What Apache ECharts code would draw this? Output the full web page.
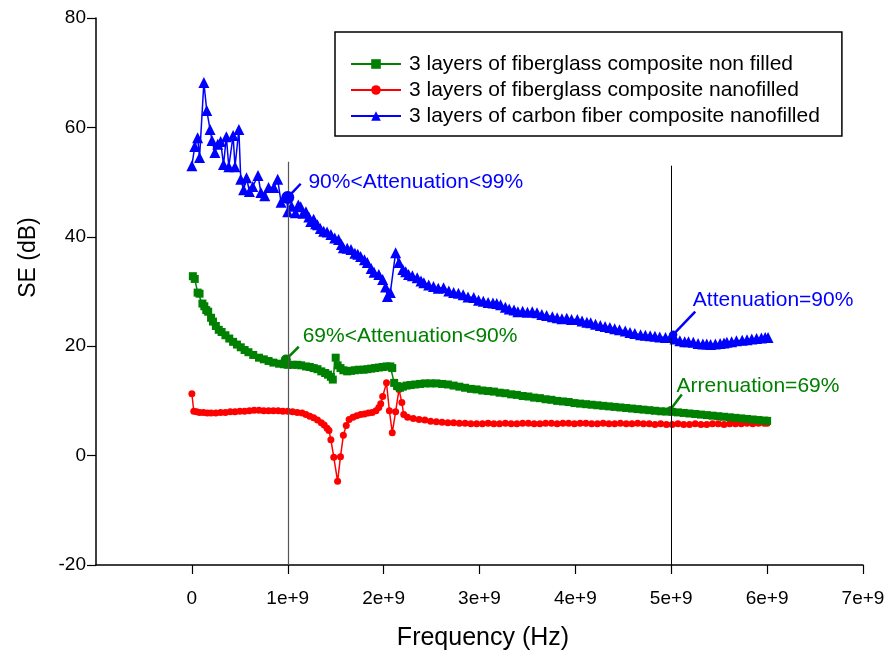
<!DOCTYPE html>
<html>
<head>
<meta charset="utf-8">
<script src="https://cdn.jsdelivr.net/npm/echarts@6/dist/echarts.min.js"></script>
<style>
  html, body { margin: 0; padding: 0; background: #fff; }
  #chart { width: 889px; height: 657px; }
</style>
</head>
<body>
<div id="chart"></div>
<script>
// frequencies in GHz (multiplied to Hz when building the series), SE in dB
var greenFreq = [0.01,0.03,0.06,0.08,0.11,0.13,0.15,0.17,0.20,0.22,0.25,0.28,0.31,0.35,0.39,0.43,0.47,0.51,0.55,0.59,
  0.64,0.70,0.75,0.80,0.85,0.91,0.96,1.00,1.05,1.10,1.14,1.19,1.23,1.27,1.31,1.35,1.39,1.42,1.45,1.47,
  1.50,1.52,1.55,1.58,1.62,1.66,1.70,1.74,1.79,1.83,1.87,1.91,1.95,1.99,2.03,2.07,2.09,2.11,2.14,2.17,
  2.20,2.24,2.28,2.33,2.38,2.43,2.49,2.55,2.61,2.67,2.73,2.79,2.85,2.91,2.97,3.03,3.09,3.15,3.21,3.27,
  3.33,3.39,3.45,3.51,3.57,3.63,3.69,3.75,3.81,3.87,3.93,3.99,4.05,4.11,4.17,4.23,4.29,4.35,4.41,4.47,
  4.53,4.59,4.65,4.71,4.77,4.83,4.89,4.95,5.01,5.07,5.13,5.19,5.25,5.31,5.37,5.43,5.49,5.55,5.61,5.67,
  5.73,5.79,5.85,5.91,5.97,6.00];
var greenSE = [32.8,32.3,29.8,29.6,27.8,27.3,26.6,26.3,25.2,24.5,23.7,23.0,22.6,22.0,21.4,20.8,20.3,19.8,19.3,18.9,
  18.4,17.9,17.6,17.3,17.0,16.8,16.7,16.6,16.6,16.6,16.5,16.3,16.2,16.0,15.8,15.4,15.1,14.8,14.4,13.9,
  17.9,16.5,16.0,15.6,15.4,15.5,15.6,15.7,15.7,15.8,15.9,16.0,16.1,16.2,16.3,16.3,16.0,13.3,12.7,12.4,
  12.6,12.8,12.9,13.0,13.1,13.2,13.2,13.2,13.1,13.0,12.8,12.6,12.4,12.2,12.1,11.9,11.8,11.7,11.5,11.4,
  11.2,11.1,10.9,10.8,10.6,10.5,10.3,10.2,10.0,9.9,9.8,9.6,9.5,9.4,9.3,9.2,9.1,9.0,8.9,8.8,
  8.7,8.6,8.5,8.4,8.3,8.2,8.1,8.05,8.0,7.9,7.8,7.7,7.6,7.5,7.4,7.3,7.2,7.1,7.0,6.9,
  6.8,6.7,6.6,6.5,6.4,6.35];

var redFreq = [0.00,0.02,0.05,0.08,0.12,0.16,0.20,0.25,0.30,0.35,0.40,0.45,0.50,0.55,0.60,0.65,0.70,0.75,0.80,0.85,
  0.90,0.95,1.00,1.05,1.10,1.15,1.19,1.23,1.27,1.31,1.35,1.38,1.41,1.43,1.45,1.48,1.52,1.55,1.58,1.61,
  1.64,1.68,1.72,1.76,1.80,1.84,1.88,1.92,1.95,1.97,1.99,2.03,2.06,2.09,2.125,2.16,2.19,2.21,2.25,2.31,
  2.37,2.43,2.49,2.55,2.61,2.67,2.73,2.79,2.85,2.91,2.97,3.03,3.09,3.15,3.21,3.27,3.33,3.39,3.45,3.51,
  3.57,3.63,3.69,3.75,3.81,3.87,3.93,3.99,4.05,4.11,4.17,4.23,4.29,4.35,4.41,4.47,4.53,4.59,4.65,4.71,
  4.77,4.83,4.89,4.95,5.01,5.07,5.13,5.19,5.25,5.31,5.37,5.43,5.49,5.55,5.61,5.67,5.73,5.79,5.85,5.91,
  5.97,6.00];
var redSE = [11.3,8.1,8.0,7.9,7.9,7.8,7.8,7.8,7.9,7.9,8.0,8.0,8.1,8.1,8.2,8.3,8.3,8.2,8.2,8.2,
  8.2,8.1,8.1,8.0,7.9,7.8,7.5,7.2,6.9,6.5,6.0,5.6,5.0,4.6,2.9,-0.3,-4.7,-0.2,3.7,5.5,
  6.6,7.0,7.3,7.5,7.6,7.8,7.9,8.2,8.8,9.5,10.8,13.3,8.2,4.2,8.0,12.1,9.7,7.5,7.0,6.8,
  6.6,6.5,6.3,6.2,6.1,6.0,6.0,5.9,5.9,5.8,5.8,5.8,5.9,5.8,5.8,5.9,5.8,5.8,5.9,5.9,
  5.8,5.8,5.9,5.9,5.8,5.9,5.9,5.8,5.9,5.9,5.8,5.8,5.9,5.8,5.8,5.9,5.8,5.8,5.9,5.8,
  5.8,5.7,5.8,5.7,5.7,5.8,5.7,5.7,5.8,5.7,5.7,5.8,5.8,5.7,5.8,5.8,5.8,5.9,5.8,5.9,
  5.9,5.9];

var blueFreq = [0.00,0.03,0.06,0.08,0.125,0.155,0.19,0.21,0.24,0.27,0.30,0.33,0.36,0.385,0.43,0.45,0.49,0.51,0.54,0.57,
  0.60,0.635,0.69,0.72,0.76,0.80,0.855,0.895,0.93,0.99,1.00,1.04,1.08,1.11,1.135,1.16,1.19,1.22,1.24,1.27,
  1.29,1.31,1.34,1.375,1.41,1.45,1.49,1.53,1.56,1.58,1.62,1.66,1.70,1.73,1.76,1.80,1.83,1.87,1.90,1.95,
  1.99,2.02,2.04,2.07,2.125,2.16,2.20,2.23,2.26,2.30,2.35,2.39,2.42,2.47,2.52,2.57,2.625,2.68,2.73,2.78,
  2.83,2.88,2.94,2.99,3.04,3.09,3.14,3.18,3.22,3.27,3.31,3.36,3.40,3.45,3.50,3.55,3.60,3.65,3.70,3.76,
  3.81,3.86,3.91,3.96,4.02,4.07,4.12,4.16,4.21,4.26,4.31,4.36,4.41,4.46,4.52,4.57,4.62,4.68,4.73,4.78,
  4.83,4.88,4.94,4.99,5.04,5.09,5.14,5.18,5.23,5.28,5.33,5.37,5.41,5.46,5.51,5.55,5.58,5.63,5.68,5.74,
  5.79,5.84,5.89,5.94,5.98,6.01];
var blueSE = [53.0,56.5,58.1,54.5,68.2,63.1,59.6,57.6,55.4,56.9,57.4,53.2,58.3,52.8,58.5,52.8,59.6,50.5,48.6,50.8,
  48.3,49.2,51.2,48.1,47.5,49.0,49.0,50.5,46.3,47.2,44.6,45.6,44.4,45.8,45.5,44.3,44.6,43.6,42.8,43.2,
  42.4,42.2,41.5,41.0,40.9,40.4,39.8,39.5,38.6,38.0,37.9,37.7,37.0,36.8,36.4,35.8,35.3,34.2,33.5,33.1,
  32.2,30.8,29.1,29.8,37.1,35.3,34.0,33.6,33.1,32.9,32.5,31.9,31.6,31.2,30.9,30.6,30.7,30.1,29.8,29.7,
  29.4,29.0,28.9,28.4,28.2,28.0,27.9,27.8,27.6,27.1,26.8,26.6,26.3,26.4,26.2,26.3,26.1,25.8,25.6,25.4,
  25.2,25.0,25.1,24.9,24.9,24.6,24.4,24.3,24.0,23.8,23.6,23.4,23.2,23.0,22.8,22.5,22.3,22.1,22.0,21.9,
  21.8,21.7,21.6,21.6,21.3,21.0,20.8,20.8,20.7,20.5,20.4,20.4,20.3,20.4,20.5,20.6,20.7,20.8,21.0,21.1,
  21.2,21.3,21.4,21.5,21.6,21.6];

var seriesNames = ['3 layers of fiberglass composite non filled',
  '3 layers of fiberglass composite nanofilled',
  '3 layers of carbon fiber composite nanofilled'];
var xTicks = [0, 1e9, 2e9, 3e9, 4e9, 5e9, 6e9, 7e9];
var yTicks = [-20, 0, 20, 40, 60, 80];

var FONT = 'Liberation Sans, Arial, Helvetica, sans-serif';
var GREEN = '#008000', RED = '#ff0000', BLUE = '#0000ff';

// pair up frequency (GHz -> Hz) and SE
function toPoints(freq, se) {
  var pts = [];
  for (var i = 0; i < freq.length; i++) {
    pts.push([freq[i] * 1e9, se[i]]);
  }
  return pts;
}

// annotation: dot + short leader line + text, all in data coords
function note(text, color, dot, end, textAt, dotSize) {
  return {
    line: [{ coord: dot, symbol: 'circle', symbolSize: dotSize },
           { coord: end, symbol: 'none' }],
    point: { coord: textAt, value: text, label: { color: color } }
  };
}

var notesBlue = [
  note('90%<Attenuation<99%', BLUE, [1.0e9, 47.2], [1.135e9, 49.7], [1.21e9, 50.0], 13),
  note('Attenuation=90%', BLUE, [5.02e9, 22.1], [5.25e9, 26.3], [5.22e9, 28.5], 8)
];
var notesGreen = [
  note('69%<Attenuation<90%', GREEN, [0.98e9, 17.55], [1.115e9, 19.9], [1.15e9, 21.8], 10),
  note('Arrenuation=69%', GREEN, [4.99e9, 8.4], [5.11e9, 11.15], [5.05e9, 12.7], 7)
];

function markLines(notes, color, extra) {
  var data = notes.map(function (n) { return n.line; });
  return {
    silent: true,
    symbol: ['circle', 'none'],
    label: { show: false },
    lineStyle: { color: color, width: 2.5, type: 'solid' },
    emphasis: { disabled: true },
    data: data.concat(extra || [])
  };
}

function markPoints(notes) {
  return {
    silent: true,
    symbol: 'circle',
    symbolSize: 1,
    itemStyle: { color: 'rgba(0,0,0,0)' },
    label: {
      show: true, position: 'right', distance: 0,
      fontFamily: FONT, fontSize: 21,
      formatter: function (p) { return p.value; }
    },
    data: notes.map(function (n) { return n.point; })
  };
}

// the two thin vertical reference lines
var refLines = [
  [{ coord: [1e9, 53.7], symbol: 'none', lineStyle: { color: '#555', width: 1.2 } },
   { coord: [1e9, -20], symbol: 'none' }],
  [{ coord: [5e9, 53.0], symbol: 'none', lineStyle: { color: '#000', width: 1 } },
   { coord: [5e9, -20], symbol: 'none' }]
];

var chart = echarts.init(document.getElementById('chart'), null, { renderer: 'canvas' });

var option = {
  animation: false,
  backgroundColor: '#fff',
  textStyle: { fontFamily: FONT },
  grid: { left: 96, top: 18, right: 26, bottom: 92 },
  legend: {
    orient: 'vertical',
    left: 335,
    top: 32,
    padding: [21, 22, 9, 15],
    borderColor: '#000',
    borderWidth: 1.5,
    itemWidth: 50,
    itemHeight: 12,
    itemGap: 4,
    textStyle: { fontFamily: FONT, fontSize: 21, color: '#000', lineHeight: 22, padding: [0, 0, 0, 3] },
    data: seriesNames
  },
  xAxis: {
    type: 'value',
    min: -1e9,
    max: 7e9,
    interval: 1e9,
    name: 'Frequency (Hz)',
    nameLocation: 'middle',
    nameGap: 61,
    nameTextStyle: { fontFamily: FONT, fontSize: 25, color: '#000', padding: [0, 0, 0, 7] },
    splitLine: { show: false },
    axisLine: { onZero: false, lineStyle: { color: '#000', width: 1.5 } },
    axisTick: { inside: false, length: 9, lineStyle: { color: '#000', width: 1.2 } },
    axisLabel: {
      margin: 24, fontSize: 19, color: '#000', fontFamily: FONT,
      showMinLabel: false,
      formatter: function (v) {
        if (xTicks.indexOf(v) < 0) return '';
        return v === 0 ? '0' : (v / 1e9) + 'e+9';
      }
    }
  },
  yAxis: {
    type: 'value',
    min: yTicks[0],
    max: yTicks[yTicks.length - 1],
    interval: 20,
    name: 'SE (dB)',
    nameLocation: 'middle',
    nameGap: 56,
    nameTextStyle: { fontFamily: FONT, fontSize: 23, color: '#000', padding: [0, 0, 0, 68] },
    splitLine: { show: false },
    axisLine: { show: true, onZero: false, lineStyle: { color: '#000', width: 1.5 } },
    axisTick: { show: true, inside: false, length: 9, lineStyle: { color: '#000', width: 1.2 } },
    axisLabel: { margin: 10, fontSize: 19, color: '#000', fontFamily: FONT }
  },
  series: [
    {
      name: seriesNames[0],
      type: 'line',
      data: toPoints(greenFreq, greenSE),
      symbol: 'rect',
      symbolSize: 8,
      color: GREEN,
      lineStyle: { color: GREEN, width: 1.5 },
      itemStyle: { color: GREEN },
      markLine: markLines(notesGreen, GREEN, refLines),
      markPoint: markPoints(notesGreen),
      z: 3
    },
    {
      name: seriesNames[1],
      type: 'line',
      data: toPoints(redFreq, redSE),
      symbol: 'circle',
      symbolSize: 7,
      color: RED,
      lineStyle: { color: RED, width: 1.5 },
      itemStyle: { color: RED },
      z: 2
    },
    {
      name: seriesNames[2],
      type: 'line',
      data: toPoints(blueFreq, blueSE),
      symbol: 'triangle',
      symbolSize: 11,
      color: BLUE,
      lineStyle: { color: BLUE, width: 1.5 },
      itemStyle: { color: BLUE },
      markLine: markLines(notesBlue, BLUE),
      markPoint: markPoints(notesBlue),
      z: 4
    }
  ]
};

chart.setOption(option);
</script>
</body>
</html>
